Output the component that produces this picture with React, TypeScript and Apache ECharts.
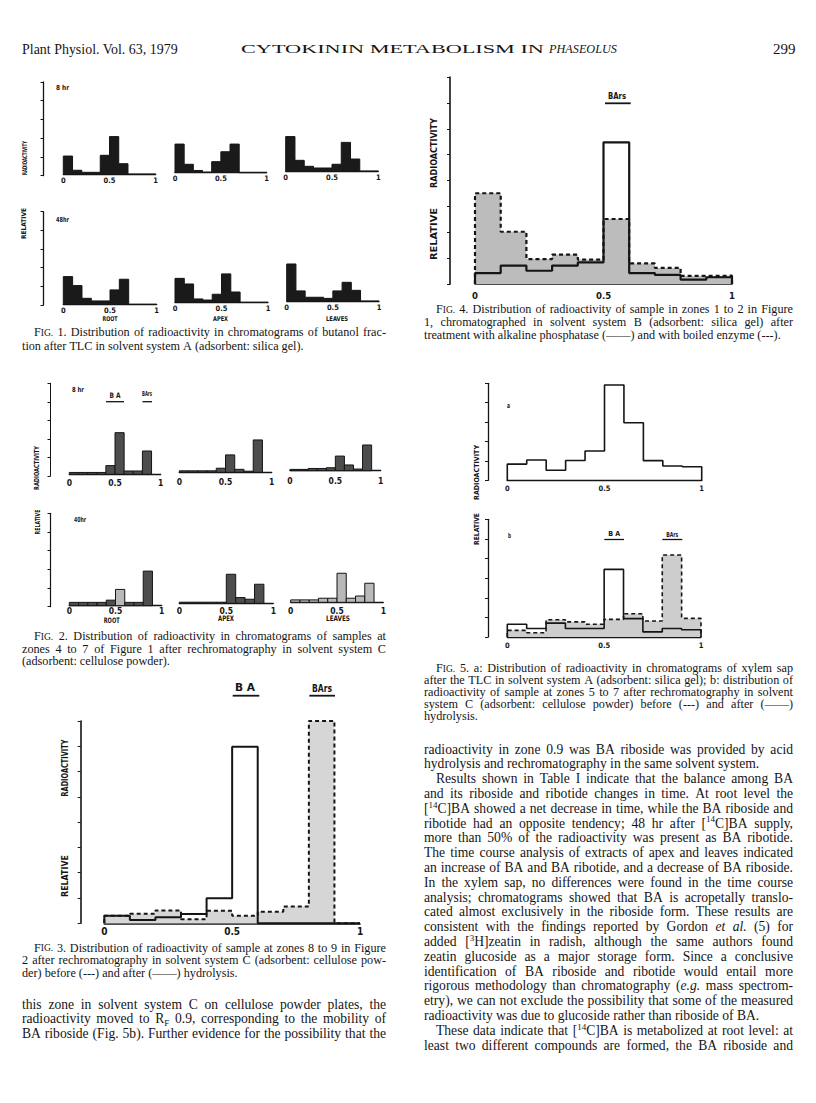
import React, { useEffect, useRef } from "react";
import * as echarts from "echarts";

// ---------------- data (relative radioactivity, in y-tick units) ----------------
const BIN_LEFT = [0, 0.1, 0.2, 0.3, 0.4, 0.5, 0.6, 0.7, 0.8, 0.9];
const RF_LABELS = ["0", "0.5", "1"];
const PLANT_PARTS = ["ROOT", "APEX", "LEAVES"];
const TIMES_FIG1 = ["8 hr", "48hr"];
const TIMES_FIG2 = ["8 hr", "40hr"];

// Fig. 1 (butanol fraction, solvent A)
const fig1Root8 = [0.96, 0.2, 0.09, 0.09, 1.0, 2.0, 0.55, 0, 0, 0];
const fig1Apex8 = [1.53, 0.45, 0.12, 0.03, 0.59, 1.12, 1.53, 0, 0, 0];
const fig1Leaves8 = [1.84, 0.57, 0.25, 0.16, 0.16, 0.36, 1.53, 0.64, 0, 0];
const fig1Root48 = [1.48, 1.0, 0.32, 0.18, 0.18, 0.77, 1.34, 0, 0, 0];
const fig1Apex48 = [1.28, 0.98, 0.18, 0.12, 0.43, 1.52, 0.55, 0, 0, 0];
const fig1Leaves48 = [1.98, 0.54, 0.2, 0.2, 0.14, 0.54, 1.0, 0.57, 0, 0];

// Fig. 2 (zones 4-7, solvent C)
const fig2Root8 = [0.1, 0.1, 0.1, 0.1, 0.47, 2.25, 0.18, 0.18, 1.26, 0];
const fig2Apex8 = [0.08, 0.08, 0.08, 0.08, 0.22, 0.94, 0.16, 0.06, 1.75, 0];
const fig2Leaves8 = [0.07, 0.07, 0.12, 0.12, 0.16, 0.79, 0.31, 0.09, 1.39, 0];
const fig2Root48 = [0.18, 0.18, 0.18, 0.18, 0.3, 0.88, 0.18, 0.18, 1.87, 0];
const fig2Apex48 = [0.06, 0.06, 0.06, 0.06, 0.06, 1.57, 0.31, 0.22, 1.03, 0];
const fig2Leaves48 = [0.13, 0.13, 0.13, 0.22, 0.22, 1.57, 0.22, 0.34, 1.03, 0];

// Fig. 3 (zones 8-9, solvent C): before / after hydrolysis
const fig3Before = [0.3, 0.38, 0.51, 0.16, 0.5, 0.3, 0.46, 0.66, 8.0, 0];
const fig3After = [0.3, 0.13, 0.24, 0.37, 0.99, 6.98, 0, 0, 0, 0];

// Fig. 4 (zones 1-2, solvent B): boiled enzyme / alkaline phosphatase
const fig4Boiled = [3.49, 2.01, 0.96, 1.13, 0.94, 2.5, 0.79, 0.62, 0.31, 0.32];
const fig4Phosphatase = [0.42, 0.71, 0.51, 0.71, 0.83, 5.45, 0.42, 0.35, 0.17, 0.26];

// Fig. 5 a: xylem sap; b: zones 5-7 before / after hydrolysis
const fig5a = [0.86, 1.07, 0.54, 1.05, 1.54, 4.96, 3.0, 1.04, 0.76, 0.72];
const fig5bBefore = [0.34, 0.22, 0.88, 0.77, 0.65, 0.9, 1.19, 0.82, 4.18, 0.95];
const fig5bAfter = [0.65, 0.43, 0.71, 0.43, 0.43, 3.45, 0.94, 0.26, 0.43, 0.37];

// ---------------- texts ----------------
const HEADER_LEFT = "Plant Physiol. Vol. 63, 1979";
const HEADER_MID = "CYTOKININ METABOLISM IN";
const HEADER_MID_IT = "PHASEOLUS";
const HEADER_PAGE = "299";

const CAP1 = [
  "F~IG.~ 1. Distribution of radioactivity in chromatograms of butanol frac-",
  "tion after TLC in solvent system A (adsorbent: silica gel).",
];
const CAP2 = [
  "F~IG.~ 2. Distribution of radioactivity in chromatograms of samples at",
  "zones 4 to 7 of Figure 1 after rechromatography in solvent system C",
  "(adsorbent: cellulose powder).",
];
const CAP3 = [
  "F~IG.~ 3. Distribution of radioactivity of sample at zones 8 to 9 in Figure",
  "2 after rechromatography in solvent system C (adsorbent: cellulose pow-",
  "der) before (---) and after (——) hydrolysis.",
];
const BODY_LEFT = [
  "this zone in solvent system C on cellulose powder plates, the",
  "radioactivity moved to R|F| 0.9, corresponding to the mobility of",
  "BA riboside (Fig. 5b). Further evidence for the possibility that the",
];
const CAP4 = [
  "F~IG.~ 4. Distribution of radioactivity of sample in zones 1 to 2 in Figure",
  "1, chromatographed in solvent system B (adsorbent: silica gel) after",
  "treatment with alkaline phosphatase (——) and with boiled enzyme (---).",
];
const CAP5 = [
  "F~IG.~ 5. a: Distribution of radioactivity in chromatograms of xylem sap",
  "after the TLC in solvent system A (adsorbent: silica gel); b: distribution of",
  "radioactivity of sample at zones 5 to 7 after rechromatography in solvent",
  "system C (adsorbent: cellulose powder) before (---) and after (——)",
  "hydrolysis.",
];
const BODY_RIGHT = [
  "radioactivity in zone 0.9 was BA riboside was provided by acid",
  "hydrolysis and rechromatography in the same solvent system.",
  "Results shown in Table I indicate that the balance among BA",
  "and its riboside and ribotide changes in time. At root level the",
  "[^14^C]BA showed a net decrease in time, while the BA riboside and",
  "ribotide had an opposite tendency; 48 hr after [^14^C]BA supply,",
  "more than 50% of the radioactivity was present as BA ribotide.",
  "The time course analysis of extracts of apex and leaves indicated",
  "an increase of BA and BA ribotide, and a decrease of BA riboside.",
  "In the xylem sap, no differences were found in the time course",
  "analysis; chromatograms showed that BA is acropetally translo-",
  "cated almost exclusively in the riboside form. These results are",
  "consistent with the findings reported by Gordon *et* *al.* (5) for",
  "added [^3^H]zeatin in radish, although the same authors found",
  "zeatin glucoside as a major storage form. Since a conclusive",
  "identification of BA riboside and ribotide would entail more",
  "rigorous methodology than chromatography (*e.g.* mass spectrom-",
  "etry), we can not exclude the possibility that some of the measured",
  "radioactivity was due to glucoside rather than riboside of BA.",
  "These data indicate that [^14^C]BA is metabolized at root level: at",
  "least two different compounds are formed, the BA riboside and",
];

// ---------------- helpers ----------------
const SERIF = '"Liberation Serif", "Times New Roman", serif';
const NARROW = '"Liberation Sans Narrow", "DejaVu Sans Condensed", "Liberation Sans", sans-serif';
const INK = "#151515";

let mctx: CanvasRenderingContext2D | null = null;
function measure(text: string, font: string): number {
  if (!mctx) mctx = document.createElement("canvas").getContext("2d");
  mctx!.font = font;
  return mctx!.measureText(text).width;
}

function txt(text: string, x: number, y: number, o: any = {}) {
  const align = o.align || "left";
  const va = o.va || "middle";
  return {
    type: "text",
    x,
    y,
    rotation: o.rot || 0,
    scaleX: o.sx || 1,
    silent: true,
    z: 10,
    style: {
      text,
      fontSize: o.size || 12,
      fontFamily: o.family || SERIF,
      fontWeight: o.weight || "normal",
      fontStyle: o.italic ? "italic" : "normal",
      fill: o.fill || INK,
      align,
      verticalAlign: va,
      textAlign: align,
      textVerticalAlign: va,
    },
  };
}

// text stretched to a given length (condensed, letter-spaced figure lettering)
function fit(text: string, x: number, y: number, len: number, o: any = {}) {
  const size = o.size || 8;
  const fam = o.family || NARROW;
  const weight = o.weight || "bold";
  const w = measure(text, `${o.italic ? "italic " : ""}${weight} ${size}px ${fam}`);
  return txt(text, x, y, { ...o, size, family: fam, weight, sx: len / Math.max(w, 1) });
}

function line(x1: number, y1: number, x2: number, y2: number, w = 1.5) {
  return { type: "line", silent: true, z: 10, shape: { x1, y1, x2, y2 }, style: { stroke: INK, lineWidth: w } };
}

function parseWord(word: string, size: number) {
  const out: any[] = [];
  let cur = "";
  let sc = false, sup = false, sub = false, it = false;
  const flush = () => {
    if (!cur) return;
    const fs = sc ? size * 0.78 : sup || sub ? size * 0.66 : size;
    const base = 0.33 * (size - fs);
    const dy = base + (sup ? -0.38 * size : sub ? 0.16 * size : 0);
    out.push({ t: cur, fs, dy, it, w: measure(cur, `${it ? "italic " : ""}${fs}px ${SERIF}`) });
    cur = "";
  };
  for (const ch of word) {
    if (ch === "~") { flush(); sc = !sc; }
    else if (ch === "^") { flush(); sup = !sup; }
    else if (ch === "|") { flush(); sub = !sub; }
    else if (ch === "*") { flush(); it = !it; }
    else cur += ch;
  }
  flush();
  return out;
}

// justified block of lines
function block(lines: string[], x: number, width: number, ys: number[], size: number,
  indents: number[], lastIdx: number[]) {
  const els: any[] = [];
  const space = measure(" ", `${size}px ${SERIF}`);
  lines.forEach((ln, li) => {
    const words = ln.split(" ").filter(Boolean).map((w) => parseWord(w, size));
    const ww = words.map((s) => s.reduce((a: number, b: any) => a + b.w, 0));
    const sum = ww.reduce((a, b) => a + b, 0);
    const ind = indents.includes(li) ? 12 : 0;
    const last = lastIdx.includes(li);
    let gap = !last && words.length > 1 ? (width - ind - sum) / (words.length - 1) : space;
    if (gap < space * 0.5) gap = space * 0.5;
    let cx = x + ind;
    words.forEach((segs) => {
      segs.forEach((s: any) => {
        els.push(txt(s.t, cx, ys[li] + s.dy, { size: s.fs, italic: s.it }));
        cx += s.w;
      });
      cx += gap;
    });
  });
  return els;
}

const seq = (y0: number, dy: number, n: number) => Array.from({ length: n }, (_, i) => y0 + i * dy);

// ---------------- option ----------------
function buildOption() {
  const grid: any[] = [];
  const xAxis: any[] = [];
  const yAxis: any[] = [];
  const series: any[] = [];

  const addPanel = (p: any) => {
    const idx = grid.length;
    grid.push({ left: p.x0, top: p.base - p.ymax * p.unit, width: p.x1 - p.x0, height: p.ymax * p.unit });
    xAxis.push({
      gridIndex: idx, type: "value", min: 0, max: 1, interval: 0.5,
      axisLine: { show: true, onZero: false, lineStyle: { color: INK, width: p.xw || 1.3 } },
      axisTick: { show: false }, splitLine: { show: false },
      axisLabel: {
        show: true, margin: p.lm, fontSize: p.ls, fontFamily: NARROW, fontWeight: "bold", color: INK,
        showMinLabel: true, showMaxLabel: true,
        formatter: (v: number) => (v === 0 ? RF_LABELS[0] : v === 1 ? RF_LABELS[2] : RF_LABELS[1]),
      },
    });
    yAxis.push({ gridIndex: idx, type: "value", min: 0, max: p.ymax, show: false });
    return idx;
  };

  const addYAxis = (x: number, top: number, bottom: number, n: number, w = 1.3) => {
    const idx = grid.length;
    grid.push({ left: x, top, width: 10, height: bottom - top });
    xAxis.push({ gridIndex: idx, type: "value", min: 0, max: 1, show: false });
    yAxis.push({
      gridIndex: idx, type: "value", min: 0, max: n, interval: 1,
      axisLine: { show: true, lineStyle: { color: INK, width: w } },
      axisTick: { show: true, inside: false, length: 3, lineStyle: { color: INK, width: 1 } },
      axisLabel: { show: false }, splitLine: { show: false },
    });
  };

  const stepData = (vals: number[]) => {
    const pts: number[][] = [[0, 0]];
    vals.forEach((v, i) => pts.push([BIN_LEFT[i], v]));
    pts.push([1, 0]);
    return pts;
  };

  const step = (idx: number, vals: number[], o: any) => {
    series.push({
      type: "line", xAxisIndex: idx, yAxisIndex: idx, data: stepData(vals), step: "end",
      symbol: "none", silent: true, clip: false,
      lineStyle: { color: INK, width: o.w || 1, type: o.dash ? [4, 3] : "solid" },
      areaStyle: o.area ? { color: o.area, opacity: 1 } : undefined,
    });
  };

  const bars = (idx: number, vals: number[], tones: string) => {
    series.push({
      type: "custom", xAxisIndex: idx, yAxisIndex: idx, silent: true, clip: false,
      data: vals.map((v, i) => [BIN_LEFT[i], BIN_LEFT[i] + 0.1, v]),
      encode: { x: [0, 1], y: 2 },
      renderItem: (params: any, api: any) => {
        const h = api.value(2);
        if (!(h > 0)) return null;
        const a = api.coord([api.value(0), h]);
        const b = api.coord([api.value(1), 0]);
        const light = tones[params.dataIndex] === "l";
        return {
          type: "rect",
          shape: { x: a[0], y: a[1], width: b[0] - a[0], height: b[1] - a[1] },
          style: { fill: light ? "#b9b9b9" : "#4d4d4d", stroke: INK, lineWidth: 1 },
        };
      },
    });
  };

  // ---- Fig. 1 ----
  const f1 = { unit: 18.7, ymax: 5, ls: 7.5, lm: 2 };
  addYAxis(43.5, 82, 175.7, 5);
  addYAxis(43.5, 211.7, 305, 5);
  const f1Rows = [
    [fig1Root8, fig1Apex8, fig1Leaves8],
    [fig1Root48, fig1Apex48, fig1Leaves48],
  ];
  const f1Geo = [
    [{ x0: 63.3, x1: 155.7, base: 174 }, { x0: 175, x1: 266.7, base: 172.7 }, { x0: 285.7, x1: 378.3, base: 171 }],
    [{ x0: 63.3, x1: 156.7, base: 304.3 }, { x0: 175, x1: 268, base: 302.3 }, { x0: 286.7, x1: 379, base: 301 }],
  ];
  f1Rows.forEach((row, r) => row.forEach((vals, c) => {
    const idx = addPanel({ ...f1, ...f1Geo[r][c] });
    step(idx, vals, { w: 1, area: "#1a1a1a" });
  }));

  // ---- Fig. 2 ----
  const f2 = { unit: 18.5, ymax: 5, ls: 8.5 };
  addYAxis(50.5, 383.3, 476, 5, 1);
  addYAxis(50.5, 513.3, 606.7, 5, 1.2);
  const f2Rows = [
    [fig2Root8, fig2Apex8, fig2Leaves8],
    [fig2Root48, fig2Apex48, fig2Leaves48],
  ];
  const f2Tones = [
    ["dddddddddd", "dddddddddd", "dddddddddd"],
    ["dddddldddd", "dddddddddd", "llllllllll"],
  ];
  const f2Geo = [
    [{ x0: 69.3, x1: 160.7, base: 474.3, lm: 4 }, { x0: 179.3, x1: 271.7, base: 472.3, lm: 5 }, { x0: 290, x1: 380.7, base: 470.7, lm: 6 }],
    [{ x0: 69.3, x1: 161.7, base: 605.7, lm: 1 }, { x0: 179.3, x1: 273.3, base: 603.3, lm: 3 }, { x0: 290.7, x1: 383.3, base: 602.3, lm: 4 }],
  ];
  f2Rows.forEach((row, r) => row.forEach((vals, c) => {
    const idx = addPanel({ ...f2, ...f2Geo[r][c] });
    bars(idx, vals, f2Tones[r][c]);
  }));

  // ---- Fig. 3 ----
  addYAxis(80.7, 721, 923.3, 8, 1.6);
  const i3 = addPanel({ x0: 104.3, x1: 360, base: 923.3, unit: 25.3, ymax: 8, ls: 10, lm: 3, xw: 1.6 });
  step(i3, fig3Before, { w: 2, dash: true, area: "#d6d6d6" });
  step(i3, fig3After, { w: 2 });

  // ---- Fig. 4 ----
  addYAxis(450, 77, 284.3, 8, 1.6);
  const i4 = addPanel({ x0: 475, x1: 732, base: 284, unit: 26, ymax: 8, ls: 9.5, lm: 6, xw: 1.6 });
  step(i4, fig4Boiled, { w: 2.2, dash: true, area: "#bcbcbc" });
  step(i4, fig4Phosphatase, { w: 2.2 });

  // ---- Fig. 5 ----
  addYAxis(488, 383.3, 480.3, 5, 1.3);
  const i5a = addPanel({ x0: 507.3, x1: 701.7, base: 480.7, unit: 19.3, ymax: 5, ls: 7.5, lm: 3.5 });
  step(i5a, fig5a, { w: 1.6 });
  addYAxis(488, 519.3, 637, 6, 1.3);
  const i5b = addPanel({ x0: 507.3, x1: 701, base: 637, unit: 19.6, ymax: 6, ls: 7.5, lm: 4 });
  step(i5b, fig5bBefore, { w: 1.6, dash: true, area: "#cdcdcd" });
  step(i5b, fig5bAfter, { w: 1.6 });

  // ---------------- graphic texts ----------------
  const g: any[] = [];
  // header
  g.push(fit(HEADER_LEFT, 22, 49, 156, { size: 14, family: SERIF, weight: "normal" }));
  g.push(fit(HEADER_MID, 241, 49, 303, { size: 13.5, family: SERIF, weight: "normal" }));
  g.push(fit(HEADER_MID_IT, 549, 49, 68, { size: 13.5, family: SERIF, weight: "normal", italic: true }));
  g.push(txt(HEADER_PAGE, 773, 49, { size: 15 }));

  // Fig. 1 lettering
  g.push(fit(TIMES_FIG1[0], 56, 88, 13, { size: 7 }));
  g.push(fit(TIMES_FIG1[1], 56, 219, 13, { size: 7 }));
  g.push(fit("RADIOACTIVITY", 24.5, 158, 34, { size: 6.5, align: "center", rot: Math.PI / 2 }));
  g.push(fit("RELATIVE", 24.5, 223.5, 31, { size: 6.5, align: "center", rot: Math.PI / 2 }));
  g.push(fit(PLANT_PARTS[0], 110, 318.5, 15, { size: 6.5, align: "center" }));
  g.push(fit(PLANT_PARTS[1], 220.5, 318.5, 15, { size: 6.5, align: "center" }));
  g.push(fit(PLANT_PARTS[2], 337, 318.5, 22, { size: 6.5, align: "center" }));

  // Fig. 2 lettering
  g.push(fit(TIMES_FIG2[0], 72, 390, 12, { size: 7 }));
  g.push(fit(TIMES_FIG2[1], 74, 519, 12, { size: 7 }));
  g.push(fit("B A", 115, 395, 11, { size: 7.5, align: "center" }));
  g.push(line(106, 401.7, 124, 401.7, 1.3));
  g.push(fit("BArs", 147, 394, 10, { size: 7, align: "center" }));
  g.push(line(142.5, 401.7, 152, 401.7, 1.3));
  g.push(fit("RADIOACTIVITY", 36.7, 468, 44, { size: 7, align: "center", rot: Math.PI / 2 }));
  g.push(fit("RELATIVE", 36.7, 522, 25, { size: 7, align: "center", rot: Math.PI / 2 }));
  g.push(fit(PLANT_PARTS[0], 111.7, 621, 16, { size: 7.5, align: "center" }));
  g.push(fit(PLANT_PARTS[1], 226, 619, 16, { size: 7.5, align: "center" }));
  g.push(fit(PLANT_PARTS[2], 338, 619, 24, { size: 7.5, align: "center" }));

  // Fig. 3 lettering
  g.push(fit("B A", 245, 688, 20, { size: 10.5, align: "center" }));
  g.push(line(232.7, 695.7, 259.3, 695.7, 1.8));
  g.push(fit("BArs", 322, 688, 20, { size: 10.5, align: "center" }));
  g.push(line(309.3, 695.7, 335, 695.7, 1.8));
  g.push(fit("RADIOACTIVITY", 65, 768, 57, { size: 9, align: "center", rot: Math.PI / 2 }));
  g.push(fit("RELATIVE", 65, 876, 42, { size: 9, align: "center", rot: Math.PI / 2 }));

  // Fig. 4 lettering
  g.push(fit("BArs", 617, 96, 18, { size: 9.5, align: "center" }));
  g.push(line(605, 103.3, 630.7, 103.3, 1.8));
  g.push(fit("RADIOACTIVITY", 433.3, 153, 70, { size: 9.5, align: "center", rot: Math.PI / 2 }));
  g.push(fit("RELATIVE", 433.3, 234, 52, { size: 9.5, align: "center", rot: Math.PI / 2 }));

  // Fig. 5 lettering
  g.push(fit("a", 507, 405, 3, { size: 7 }));
  g.push(fit("b", 508, 535, 3, { size: 7 }));
  g.push(fit("B A", 614.3, 534, 12, { size: 7, align: "center" }));
  g.push(line(604.3, 539.5, 624, 539.5, 1.3));
  g.push(fit("BArs", 672.3, 534, 12, { size: 7, align: "center" }));
  g.push(line(662.3, 539.5, 682.3, 539.5, 1.3));
  g.push(fit("RADIOACTIVITY", 477, 472.5, 55, { size: 7, align: "center", rot: Math.PI / 2 }));
  g.push(fit("RELATIVE", 477, 529, 32, { size: 7, align: "center", rot: Math.PI / 2 }));

  // captions and body text
  const LW = 364, RW = 369;
  const CS = 12.2, BS = 13.6;
  g.push(...block(CAP1, 22, LW, [332, 346], CS, [0], [1]));
  g.push(...block(CAP2, 22, LW, seq(636, 12.5, 3), CS, [0], [2]));
  g.push(...block(CAP3, 22, LW, seq(947.5, 12.5, 3), CS, [0], [2]));
  g.push(...block(BODY_LEFT, 22, LW, seq(1004, 14.8, 3), BS, [], []));
  g.push(...block(CAP4, 424, RW, seq(309, 13, 3), CS, [0], [2]));
  g.push(...block(CAP5, 424, RW, seq(668, 12, 5), CS, [0], [4]));
  g.push(...block(BODY_RIGHT, 424, RW, seq(749, 14.8, BODY_RIGHT.length), BS, [2, 19], [1, 18]));

  return {
    animation: false,
    backgroundColor: "#ffffff",
    grid,
    xAxis,
    yAxis,
    series,
    graphic: g,
  };
}

export default function App() {
  const ref = useRef<HTMLDivElement>(null);
  useEffect(() => {
    const chart = echarts.init(ref.current!, undefined, { renderer: "svg" });
    chart.setOption(buildOption() as any);
    return () => chart.dispose();
  }, []);
  return (
    <div
      ref={ref}
      style={{ position: "absolute", left: 0, top: 0, width: 816, height: 1103, background: "#fff" }}
    />
  );
}
